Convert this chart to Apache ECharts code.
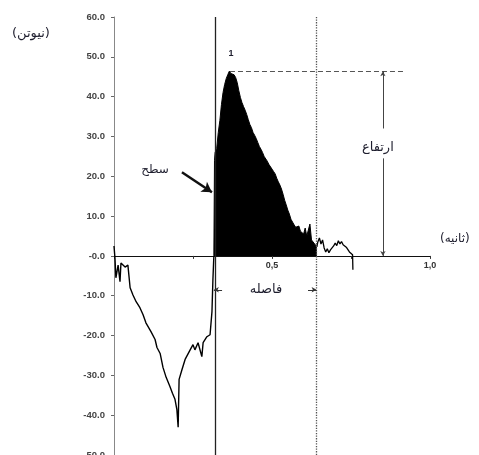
<!DOCTYPE html>
<html>
<head>
<meta charset="utf-8">
<script src="https://cdn.jsdelivr.net/npm/echarts@6/dist/echarts.min.js"></script>
<style>html,body{margin:0;padding:0;background:#fff}#c{width:479px;height:455px}</style>
</head>
<body>
<div id="c"></div>
<script>
// time (s) and force (N) for the negative (pre-contact) phase
const negT = [0.000,0.003,0.006,0.013,0.019,0.022,0.035,0.044,0.051,0.060,0.070,0.082,0.092,0.101,0.117,0.130,0.136,0.146,0.155,0.165,0.177,0.185,0.193,0.199,0.203,0.206,0.215,0.225,0.241,0.250,0.256,0.266,0.278,0.282,0.294,0.304,0.310,0.313,0.316];
const negV = [2.5,-0.5,-5.5,-2.3,-6.5,-1.8,-2.8,-2.3,-8.0,-9.8,-11.5,-13.0,-14.8,-16.8,-19.0,-21.0,-23.0,-24.5,-28.0,-30.5,-32.8,-34.5,-36.0,-38.6,-43.0,-31.0,-28.6,-26.0,-23.6,-22.3,-23.6,-21.8,-25.3,-21.8,-20.3,-19.8,-14.0,-6.0,0.0];
// filled impulse phase
const posT = [0.316,0.318,0.320,0.325,0.330,0.335,0.340,0.345,0.350,0.355,0.360,0.365,0.370,0.375,0.380,0.385,0.390,0.395,0.400,0.405,0.410,0.415,0.420,0.425,0.430,0.435,0.440,0.445,0.450,0.455,0.460,0.465,0.470,0.475,0.480,0.485,0.490,0.495,0.500,0.505,0.510,0.515,0.520,0.525,0.530,0.535,0.540,0.545,0.550,0.555,0.560,0.565,0.570,0.575,0.580,0.585,0.590,0.595,0.600,0.605,0.610,0.615,0.620,0.625,0.630,0.635,0.640,0.642];
const posV = [0,24,26,27,31,34,38,41,43,44.5,45.5,46.4,45.8,46.2,45.5,44.8,43.5,41.5,39.8,38.5,37.5,36.6,35.5,34.2,33.0,32.2,31.0,30.3,29.5,28.5,27.5,26.8,26.0,25.0,24.5,23.8,23.0,22.5,21.8,21.2,20.6,19.5,18.6,17.8,16.8,15.5,14.0,12.8,11.5,10.5,9.2,8.5,7.8,7.2,6.8,7.5,6.2,6.0,5.5,7.0,5.0,4.5,8.0,4.0,3.5,3.0,2.5,2.3];
// tail after the interval line
const tailT = [0.642,0.645,0.650,0.655,0.660,0.665,0.670,0.675,0.680,0.685,0.690,0.695,0.700,0.705,0.710,0.715,0.720,0.725,0.730,0.735,0.740,0.745,0.750,0.755,0.756];
const tailV = [2.3,3.5,4.5,3.0,4.0,2.0,1.0,1.8,0.8,1.5,1.0,2.5,3.2,2.6,3.8,3.0,3.6,2.8,3.2,2.2,2.0,1.0,0.5,0.3,-3.5];
// annotation values
const impactT = 0.316, intervalEndT = 0.641, peakT = 0.367, peakV = 46.4;
const heightT = 0.851, dashEndT = 0.915;
const yTicks = [-50,-40,-30,-20,-10,0,10,20,30,40,50,60];
const xLabels = {0.5:'0,5', 1:'1,0'};

const zip = (a,b)=>a.map((x,i)=>[x,b[i]]);
const fa = 'DejaVu Sans';
const chart = echarts.init(document.getElementById('c'));
const gridTop = 17, gridH = 455 - gridTop;
const yMin = yTicks[0], yMax = yTicks[yTicks.length-1];
const zeroOffset = -gridH * (0 - yMin) / (yMax - yMin);
const txt = (coord, text, size, weight) => ({
  coord, symbol:'circle', symbolSize:1, itemStyle:{color:'rgba(0,0,0,0)'},
  label:{show:true, position:'inside', formatter:text, fontFamily: weight ? 'Liberation Sans' : fa,
         fontSize:size, fontWeight: weight||'normal', color:'#1e1e2e'}
});
chart.setOption({
  animation:false,
  grid:{left:114, right:49, top:gridTop, bottom:0, containLabel:false, outerBoundsMode:'none'},
  xAxis:{type:'value', min:0, max:1, interval:0.25, offset:zeroOffset,
    axisLine:{onZero:false, lineStyle:{color:'#111', width:1}},
    axisTick:{show:true, length:3, lineStyle:{color:'#333'}},
    splitLine:{show:false},
    axisLabel:{margin:5, fontSize:9, fontWeight:'bold', fontFamily:'Liberation Sans', color:'#333',
      formatter:v=>xLabels[v]||''}},
  yAxis:{type:'value', min:yMin, max:yMax, interval:10,
    axisLine:{show:true, lineStyle:{color:'#888', width:1}},
    axisTick:{show:true, length:3, lineStyle:{color:'#666'}},
    splitLine:{show:false},
    axisLabel:{margin:9, fontSize:9.5, fontWeight:'bold', fontFamily:'Liberation Sans', color:'#444',
      formatter:v=> v===0 ? '-0.0' : v.toFixed(1)}},
  graphic:[
    {type:'text', left:12, top:27, style:{text:'(نیوتن)', font:'13px "DejaVu Sans"', fill:'#1e1e2e'}},
    {type:'text', left:440, top:233, style:{text:'(ثانیه)', font:'12px "DejaVu Sans"', fill:'#1e1e2e'}}
  ],
  series:[
    {type:'line', data:zip(posT,posV), showSymbol:false, lineStyle:{color:'#000', width:1},
     areaStyle:{color:'#000', opacity:1}, itemStyle:{color:'#000'}, z:3},
    {type:'line', data:zip(tailT,tailV), showSymbol:false, lineStyle:{color:'#000', width:1.3}, z:3},
    {type:'line', data:zip(negT,negV), showSymbol:false, lineStyle:{color:'#000', width:1.4}, z:3,
     markLine:{silent:true, symbol:['none','none'], label:{show:false},
       data:[
         {xAxis:impactT, lineStyle:{color:'#222', width:1.3, type:'solid'}},
         {xAxis:intervalEndT, lineStyle:{color:'#555', width:1.3, type:'dotted'}},
         [{coord:[peakT,peakV], lineStyle:{color:'#555', width:1, type:[5,3]}},{coord:[dashEndT,peakV]}],
         [{coord:[heightT,32], symbol:'none', lineStyle:{color:'#444', width:1, type:'solid'}},{coord:[heightT,peakV], symbol:'arrow', symbolSize:[4,5]}],
         [{coord:[heightT,24.5], symbol:'none', lineStyle:{color:'#444', width:1, type:'solid'}},{coord:[heightT,0], symbol:'arrow', symbolSize:[4,5]}],
         [{coord:[0.342,-8.5], symbol:'none', lineStyle:{color:'#333', width:1, type:'solid'}},{coord:[impactT,-8.5], symbol:'arrow', symbolSize:[4,5]}],
         [{coord:[0.614,-8.5], symbol:'none', lineStyle:{color:'#333', width:1, type:'solid'}},{coord:[intervalEndT,-8.5], symbol:'arrow', symbolSize:[4,5]}],
         [{coord:[0.215,21.0], symbol:'none', lineStyle:{color:'#111', width:2.5, type:'solid'}},{coord:[0.310,16.0], symbol:'arrow', symbolSize:[9,10]}]
       ]},
     markPoint:{silent:true, data:[
       txt([0.370,50.9],'1',9,'bold'),
       txt([0.130,21.6],'سطح',12),
       txt([0.481,-8.5],'فاصله',13),
       txt([0.835,27.3],'ارتفاع',13)
     ]}}
  ]
});
</script>
</body>
</html>
